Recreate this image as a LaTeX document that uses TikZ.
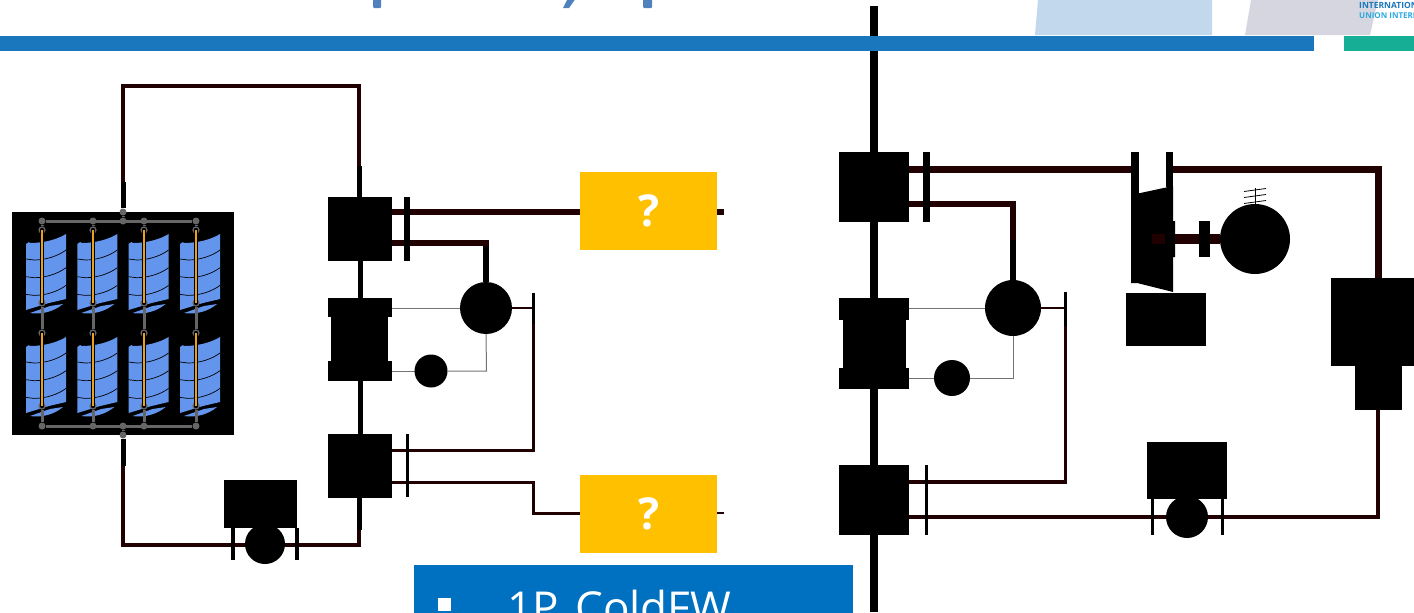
\documentclass[tikz,border=0pt]{standalone}
\usepackage{fontspec}
\setmainfont{Open Sans}
\usetikzlibrary{backgrounds}
\definecolor{pipec}{HTML}{200000}
\definecolor{barblue}{HTML}{1A76BD}
\definecolor{barteal}{HTML}{17AE96}
\definecolor{lblue}{HTML}{C2D8EC}
\definecolor{lgrey}{HTML}{D5D6DF}
\definecolor{titleblue}{HTML}{4F81BD}
\definecolor{boxblue}{HTML}{0070C0}
\definecolor{qyellow}{HTML}{FFC000}
\definecolor{panelblue}{HTML}{6495ED}
\definecolor{busgrey}{HTML}{666666}
\definecolor{rodorange}{HTML}{E8A020}
\definecolor{logolight}{HTML}{2AA8E0}
\tikzset{
  blk/.style={fill=black,draw=none,inner sep=0pt,outer sep=0pt,rectangle},
  disc/.style={fill=black,draw=none,inner sep=0pt,outer sep=0pt,circle},
  qbox/.style={fill=qyellow,draw=none,inner sep=0pt,outer sep=0pt,minimum width=137pt,minimum height=78pt,text=white,font=\bfseries\fontsize{44}{44}\selectfont},
  pipe/.style={draw=pipec,line width=#1,line join=miter},
  pipe/.default=4.5pt,
  kpipe/.style={draw=black,line width=#1},
  kpipe/.default=5pt,
  thinl/.style={draw=black!55,line width=1pt},
  pt/.style={circle,fill=busgrey,draw=none,inner sep=0pt,minimum size=7pt},
  ring/.style={circle,draw=busgrey,line width=1.2pt,fill=black,inner sep=0pt,minimum size=6pt},
}
\newcommand{\solarpanel}[2]{%
  \begin{scope}[shift={(#1,#2)}]
    \fill[panelblue] (26,244) -- (29,242) -- (30,243) .. controls (45,243) and (58,239) .. (66,234) -- (66,299) -- (49,303) -- (26,310) -- cycle;
    \fill[panelblue] (30,313) -- (50,306) -- (63,304) .. controls (55,311) and (42,315) .. (30,313) -- cycle;
    \foreach \d in {0,17.7,35.4}
      \draw[black,line width=.7pt] (26,259+\d) -- (34,260+\d) .. controls (46,260+\d) and (58,256+\d) .. (66,250+\d);
  \end{scope}}
\begin{document}
\begin{tikzpicture}[x=1pt,y=-1pt]
\pgfdeclarelayer{wires}\pgfsetlayers{wires,main}
\useasboundingbox (0,0) rectangle (1414,613);

% header
\fill[lblue] (1035,35) -- (1038,0) -- (1212,0) -- (1212,35) -- cycle;
\fill[lgrey] (1245,35) -- (1251,0) -- (1378,0) -- (1370,35) -- cycle;
\fill[barblue] (0,36) rectangle (1314,51);
\fill[barteal] (1344,36) rectangle (1414,51);
\fill[titleblue,rounded corners=1pt] (373,-3) rectangle (381,8);
\fill[titleblue,rounded corners=1pt] (643,-3) rectangle (652,8);
\fill[titleblue] (563,8) -- (569,8) -- (576,-2) -- (568,-2) -- cycle;
\node[anchor=base west,inner sep=0pt,text=barblue,font=\bfseries\fontsize{8.5}{8.5}\selectfont] (logoa) at (1359,9) {INTERNATIONAL};
\node[anchor=base west,inner sep=0pt,text=logolight,font=\bfseries\fontsize{8}{8}\selectfont] (logob) at (1359,18.5) {UNION INTERNATIONALE};

% ---- left plant
\node[blk,minimum width=222pt,minimum height=223pt] (pv) at (123,323.5) {};
\foreach \x in {0,51.3,102.6,154}
  \foreach \y in {0,103} {\solarpanel{\x}{\y}}
\foreach \x [count=\i] in {42,93,144,196} {
  \node[pt] (t\i) at (\x,221) {};
  \node[pt] (b\i) at (\x,426) {};
  \node[ring] (ra\i) at (\x,230) {};
  \node[ring] (rb\i) at (\x,303) {};
  \node[ring] (rc\i) at (\x,333) {};
  \node[ring] (rd\i) at (\x,406) {};
  \draw[busgrey,line width=3pt] (t\i) -- (ra\i);
  \draw[busgrey,line width=3pt] (rb\i) -- (rc\i);
  \draw[busgrey,line width=3pt] (rd\i) -- (b\i);
  \draw[black,line width=3.6pt] (\x,230) -- (\x,303);
  \draw[rodorange,line width=2pt] (\x,230) -- (\x,303);
  \draw[black,line width=3.6pt] (\x,333) -- (\x,406);
  \draw[rodorange,line width=2pt] (\x,333) -- (\x,406);
}
\draw[busgrey,line width=3pt] (t1) -- (t4);
\draw[busgrey,line width=3pt] (b1) -- (b4);
\node[pt] (tc) at (123,221) {};
\node[pt] (tc2) at (123,212) {};
\node[pt] (bc) at (123,426) {};
\node[pt] (bc2) at (123,435) {};
\draw[busgrey,line width=3pt] (tc) -- (tc2);
\draw[busgrey,line width=3pt] (bc) -- (bc2);

\node[blk,minimum width=64pt,minimum height=64pt] (la) at (360,229) {};
\node[blk,minimum width=64pt,minimum height=19pt] (lbt) at (360,307.5) {};
\node[blk,minimum width=57pt,minimum height=50pt] (lbw) at (359.5,339) {};
\node[blk,minimum width=64pt,minimum height=20pt] (lbb) at (360,371) {};
\node[blk,minimum width=64pt,minimum height=64pt] (lc) at (360,466) {};
\node[blk,minimum width=6pt,minimum height=64pt] (lbar1) at (407,229) {};
\node[blk,minimum width=3pt,minimum height=63pt] (lbar2) at (407,465.5) {};
\node[disc,minimum size=52pt] (lg) at (486,308) {};
\node[disc,minimum size=33pt] (ls) at (431,371) {};
\node[blk,minimum width=3pt,minimum height=31pt] (lbar3) at (533.5,308) {};
\node[qbox] (q1) at (648.5,211) {?};
\node[qbox] (q2) at (648.5,514) {?};
\node[blk,minimum width=73pt,minimum height=48pt] (ltank) at (260.5,504) {};
\node[disc,minimum size=40pt] (lp) at (265,544) {};
\node[blk,minimum width=4pt,minimum height=32pt] (lb4) at (233,544) {};
\node[blk,minimum width=4pt,minimum height=32pt] (lb5) at (297,544) {};
\coordinate (q1o) at (724,212);
\coordinate (q2o) at (724,513);

\begin{pgfonlayer}{wires}
  \draw[pipe] (tc2) -- (123,86) -- (359,86) -- (359,197);
  \draw[kpipe] (tc2) -- (123,182);
  \draw[kpipe] (359,197) -- (359,166);
  \draw[pipe] (bc2) -- (123,545) -- (359,545) -- (359,498);
  \draw[kpipe] (bc2) -- (123,466);
  \draw[kpipe] (359,498) -- (359,530);
  \draw[kpipe] (la.south) -- (lbt.north);
  \draw[kpipe] (lbb.south) -- (lc.north);
  \draw[pipe=5.5pt] (392,212) -- (q1.west |- 0,212);
  \draw[pipe=5.5pt] (717,212) -- (q1o);
  \draw[pipe=5.5pt] (392,243) -- (486,243) -- (lg.north);
  \draw[kpipe=5.5pt] (486,246) -- (lg.north);
  \draw[pipe=2.5pt] (lg.east) -- (lbar3.center);
  \draw[pipe=3pt] (392,450) -- (533.5,450) -- (lbar3.center);
  \draw[pipe=3pt] (392,482) -- (533.5,482) -- (533.5,513) -- (q2.west |- 0,513);
  \draw[pipe=2.5pt] (717,513) -- (q2o);
  \draw[thinl] (392,308) -- (lg.west);
  \draw[thinl] (392,371) -- (ls.west);
  \draw[thinl] (ls.east) -- (486.5,371) -- (lg.south);
\end{pgfonlayer}

% ---- right plant
\coordinate (mt) at (874,6);
\coordinate (mb) at (874,612);
\node[blk,minimum width=70pt,minimum height=70pt] (ra) at (874,187) {};
\node[blk,minimum width=70pt,minimum height=22pt] (rbt) at (874,309) {};
\node[blk,minimum width=63pt,minimum height=50pt] (rbw) at (874.5,344) {};
\node[blk,minimum width=70pt,minimum height=21pt] (rbb) at (874,378.5) {};
\node[blk,minimum width=70pt,minimum height=70pt] (rc) at (874,500) {};
\node[blk,minimum width=7pt,minimum height=70pt] (rbar1) at (926.5,187) {};
\node[blk,minimum width=3pt,minimum height=70pt] (rbar2) at (926.5,500) {};
\node[disc,minimum size=56pt] (rg) at (1013,308) {};
\node[disc,minimum size=36pt] (rs) at (952,378) {};
\node[blk,minimum width=3pt,minimum height=34pt] (rbar3) at (1065.5,309) {};
\node[blk,minimum width=8pt,minimum height=43pt] (tb1) at (1135,173.5) {};
\node[blk,minimum width=7pt,minimum height=35pt] (tb2) at (1169.5,169.5) {};
\fill[black] (1131,195) -- (1173,186) -- (1173,221) -- (1175,221) -- (1175,257) -- (1173,257) -- (1173,292) -- (1137,283) -- (1131,283) -- cycle;
\coordinate (tshaft) at (1152,239);
\fill[pipec] (1152,234) rectangle (1165,244);
\node[blk,minimum width=11pt,minimum height=36pt] (sbar) at (1204.5,239) {};
\node[disc,minimum size=70pt] (gen) at (1255,239) {};
\node[blk,minimum width=80pt,minimum height=53pt] (rk1) at (1166,319.5) {};
\node[blk,minimum width=83pt,minimum height=88pt] (cond) at (1372.5,322) {};
\node[blk,minimum width=47pt,minimum height=44pt] (cond2) at (1378.5,388) {};
\node[blk,minimum width=80pt,minimum height=57pt] (rtank) at (1187,470.5) {};
\node[disc,minimum size=42pt] (rp) at (1187,517) {};
\node[blk,minimum width=3pt,minimum height=36pt] (rb4) at (1152,517) {};
\node[blk,minimum width=3pt,minimum height=36pt] (rb5) at (1222,517) {};
\draw[black,line width=.8pt] (1255,188) -- (gen.north);
\foreach \yy in {190,196,202} \draw[black,line width=.8pt] (1244,\yy+1.5) -- (1266,\yy-1.5);

\begin{pgfonlayer}{wires}
  \draw[kpipe=8pt] (mt) -- (ra.north);
  \draw[kpipe=8pt] (ra.south) -- (rbt.north);
  \draw[kpipe=8pt] (rbb.south) -- (rc.north);
  \draw[kpipe=8pt] (rc.south) -- (mb);
  \draw[pipe=7pt] (909,169) -- (tb1.center |- 0,169);
  \draw[pipe=7pt] (tb2.center |- 0,169) -- (1378,169) -- (cond.north -| 1378,0);
  \draw[pipe=6.5pt] (909,204) -- (1013,204) -- (rg.north);
  \draw[kpipe=6.5pt] (1013,240) -- (rg.north);
  \draw[pipe=2.5pt] (rg.east) -- (rbar3.center |- rg.east);
  \draw[pipe=3.5pt] (909,482) -- (1065.5,482) -- (rbar3.center);
  \draw[pipe=3.5pt] (909,517) -- (rb4.center) -- (rp.west);
  \draw[pipe=3.5pt] (rp.east) -- (rb5.center) -- (1378,517) -- (cond2.south -| 1378,0);
  \draw[thinl] (909,308) -- (rg.west);
  \draw[thinl] (909,378) -- (rs.west);
  \draw[thinl] (rs.east) -- (1013,378) -- (rg.south);
  \draw[pipe=10pt] (tshaft) -- (gen.west);
\end{pgfonlayer}

% bottom blue box
\fill[boxblue] (414,565) rectangle (853,620);
\fill[white] (438,598) rectangle (451,611);
\node[anchor=base west,inner sep=0pt,text=white,font=\fontsize{44}{44}\selectfont] (tx) at (507,623) {1P, ColdFW};
\end{tikzpicture}
\end{document}
